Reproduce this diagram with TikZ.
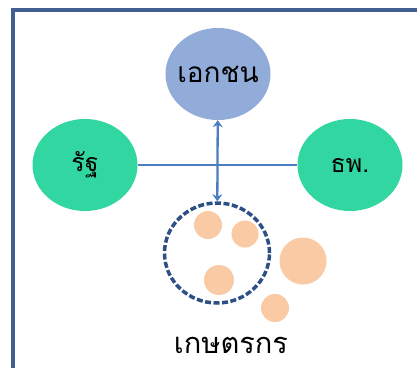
\documentclass[tikz,border=0pt]{standalone}
\usepackage{fontspec}
\usepackage{xcolor}
\usepackage{tikz}
\usetikzlibrary{shapes.geometric,arrows.meta}
\newfontfamily\thaifont[Script=Thai]{Loma}
\definecolor{framecol}{RGB}{65,95,145}
\definecolor{privcol}{RGB}{146,172,218}
\definecolor{partycol}{RGB}{50,214,160}
\definecolor{linkcol}{RGB}{74,126,192}
\definecolor{groupcol}{RGB}{46,79,134}
\definecolor{farmcol}{RGB}{250,202,164}
\tikzset{
	blob/.style={ellipse, minimum width=105pt, minimum height=92pt, inner sep=0pt},
	party/.style={blob, fill=partycol, label={[font=\thaifont\fontsize{25}{25}\selectfont]center:#1}},
	farm/.style={circle, fill=farmcol, inner sep=0pt},
}

\begin{document}
\begin{tikzpicture}[x=1pt, y=-1pt]
				\useasboundingbox (0, 0) rectangle (417, 367);
				\fill[white] (0, 0) rectangle (417, 367);
				\draw[framecol, line width=4pt] (13, 10) rectangle (440, 390);
				\node[blob, fill=privcol, label={[font=\thaifont\fontsize{28}{28}\selectfont]center:เอกชน}] (priv) at (218, 74) {};
				\node[party=รัฐ] (state) at (85, 165) {};
				\node[party=ธพ.] (bank) at (350, 165) {};
				\node[farm, minimum size=28pt] (f1) at (208, 225) {};
				\node[farm, minimum size=27pt] (f2) at (245, 234) {};
				\node[farm, minimum size=30pt] (f3) at (219, 280) {};
				\node[farm, minimum size=47pt] (f4) at (303, 261) {};
				\node[farm, minimum size=28pt] (f5) at (275, 308) {};
				\node[ellipse, draw=groupcol, line width=3.5pt, dash pattern=on 6pt off 2.5pt, minimum width=105pt, minimum height=100pt, inner sep=0pt] (group) at (217, 253) {};
				\node[font=\thaifont\fontsize{29}{29}\selectfont] (farmers) at (231, 345) {เกษตรกร};
				\draw[linkcol, line width=1.3pt] (state) to (bank);
				\draw[linkcol, line width=2.3pt, {Stealth[length=7pt,width=10pt]}-{Stealth[length=7pt,width=10pt]}] (priv) to (group);
		\end{tikzpicture}
\end{document}
